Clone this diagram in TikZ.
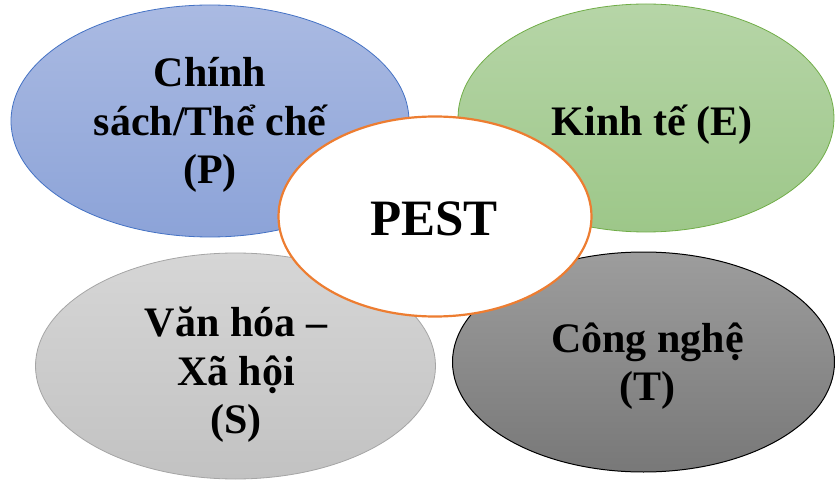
\documentclass[tikz,border=0pt]{standalone}
\usepackage{fontspec}
\setmainfont{Liberation Serif}
\usetikzlibrary{shapes.geometric}
\definecolor{bluetop}{RGB}{170,186,226}
\definecolor{bluebot}{RGB}{140,163,216}
\definecolor{blueline}{RGB}{68,114,196}
\definecolor{greentop}{RGB}{182,213,167}
\definecolor{greenbot}{RGB}{157,199,137}
\definecolor{greenline}{RGB}{112,173,71}
\definecolor{ltop}{RGB}{214,214,214}
\definecolor{lbot}{RGB}{194,194,194}
\definecolor{lline}{RGB}{165,165,165}
\definecolor{dtop}{RGB}{157,157,157}
\definecolor{dbot}{RGB}{120,120,120}
\definecolor{orangeline}{RGB}{237,125,49}
\tikzset{
  oval/.style={ellipse, inner sep=0pt},
  lbl/.style={font=\fontsize{42}{48.5}\selectfont\bfseries, align=center, inner sep=0pt, text=black},
}
\begin{document}
\begin{tikzpicture}[x=1pt,y=1pt]
\useasboundingbox (0,0) rectangle (835,480);
% outer ellipses
\node[oval, minimum width=398pt, minimum height=232pt, top color=bluetop, bottom color=bluebot, draw=blueline, line width=0.8pt] (P) at (210,359) {};
\node[oval, minimum width=376pt, minimum height=228pt, top color=greentop, bottom color=greenbot, draw=greenline, line width=0.8pt] (E) at (646,362) {};
\node[oval, minimum width=400pt, minimum height=226pt, top color=ltop, bottom color=lbot, draw=lline, line width=0.8pt] (S) at (235.5,114) {};
\node[oval, minimum width=382pt, minimum height=220pt, top color=dtop, bottom color=dbot, draw=black, line width=1pt] (T) at (643.5,118) {};
% centre
\node[oval, minimum width=313pt, minimum height=200pt, fill=white, draw=orangeline, line width=2.2pt] (C) at (435,263.5) {};
% labels
\node[lbl] (Pt) at (210,355) {Chính\\sách/Thể chế\\(P)};
\node[lbl, anchor=base] (Et) at (652,344) {Kinh tế (E)};
\node[lbl] (St) at (236,105) {Văn hóa –\\Xã hội\\(S)};
\node[lbl] (Tt) at (647.5,114) {Công nghệ\\(T)};
\node[lbl, font=\fontsize{51}{58}\selectfont\bfseries, anchor=base] (Ct) at (434,244) {PEST};
\end{tikzpicture}
\end{document}
